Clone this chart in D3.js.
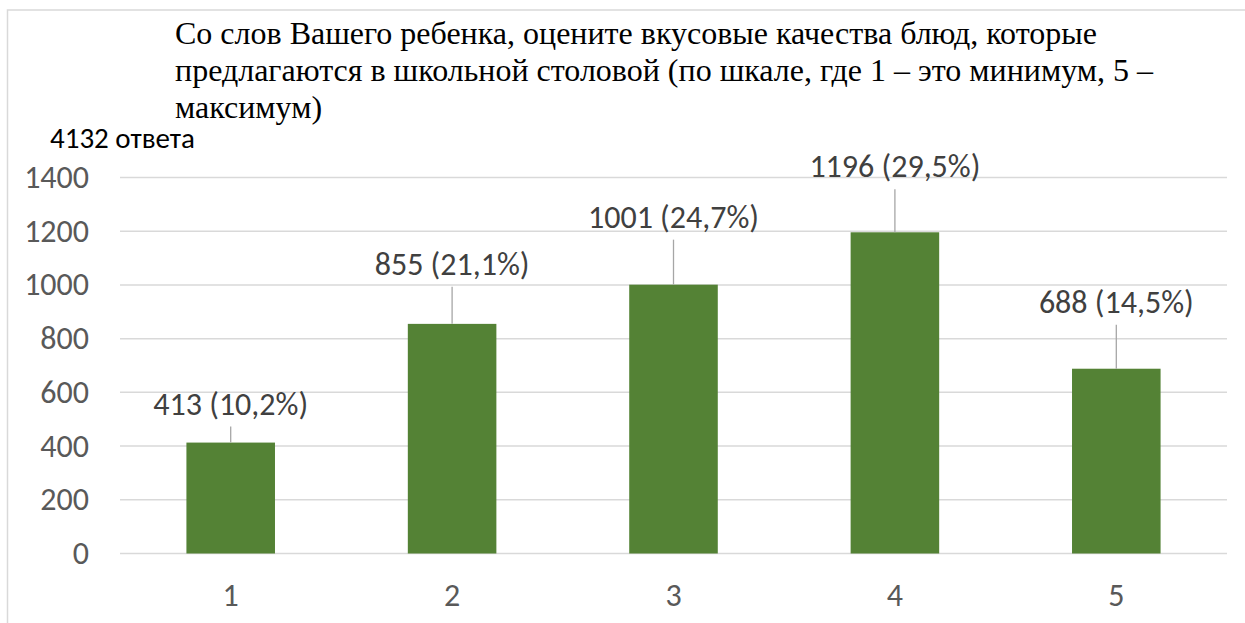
<!DOCTYPE html>
<html>
<head>
<meta charset="utf-8">
<script src="https://cdn.jsdelivr.net/npm/d3@7"></script>
<style>
  html, body { margin: 0; padding: 0; background: #fff; }
  svg { display: block; }
</style>
</head>
<body>
<svg id="chart"></svg>
<script>
const width = 1245,
      height = 623;

// data
const grades = ['1', '2', '3', '4', '5'];
const counts = [413, 855, 1001, 1196, 688];
const percents = [10.2, 21.1, 24.7, 29.5, 14.5];
const yTicks = [0, 200, 400, 600, 800, 1000, 1200, 1400];
const titleLines = [
  'Со слов Вашего ребенка, оцените вкусовые качества блюд, которые',
  'предлагаются в школьной столовой (по шкале, где 1 – это минимум, 5 –',
  'максимум)'
];
const subtitle = '4132 ответа';

// label lifts above each bar top (manually placed in the original)
const labelLift = [28, 49, 57, 55, 56];

const sansFont = 'Calibri, Carlito, "Open Sans", sans-serif';

const svg = d3.select('#chart')
    .attr('width', width)
    .attr('height', height);

// outer chart border (continues off the right/bottom edges)
svg.append('rect')
    .attr('x', 7.5)
    .attr('y', 10)
    .attr('width', width + 20)
    .attr('height', height + 20)
    .attr('fill', '#fff')
    .attr('stroke', '#d9d9d9')
    .attr('stroke-width', 1.5);

const x = d3.scaleBand()
    .domain(grades)
    .range([120, 1227])
    .paddingInner(0.6)
    .paddingOuter(0.3);

const y = d3.scaleLinear()
    .domain([0, 1400])
    .range([553.5, 177.5]);

// gridlines
svg.append('g')
    .selectAll('line')
    .data(yTicks)
    .join('line')
      .attr('x1', 120)
      .attr('x2', 1227)
      .attr('y1', (d) => y(d))
      .attr('y2', (d) => y(d))
      .attr('stroke', '#d9d9d9')
      .attr('stroke-width', 1.5);

// y tick labels
svg.append('g')
    .selectAll('text')
    .data(yTicks)
    .join('text')
      .attr('x', 89)
      .attr('y', (d) => y(d))
      .attr('dy', '0.33em')
      .attr('text-anchor', 'end')
      .attr('font-family', sansFont)
      .attr('font-size', 32)
      .attr('fill', '#595959')
      .text((d) => d);

// x tick labels
svg.append('g')
    .selectAll('text')
    .data(grades)
    .join('text')
      .attr('x', (d) => x(d) + x.bandwidth() / 2)
      .attr('y', 606)
      .attr('text-anchor', 'middle')
      .attr('font-family', sansFont)
      .attr('font-size', 32)
      .attr('fill', '#595959')
      .text((d) => d);

const rows = grades.map((g, i) => ({ grade: g, count: counts[i], pct: percents[i], lift: labelLift[i] }));

// bars
svg.append('g')
    .selectAll('rect')
    .data(rows)
    .join('rect')
      .attr('x', (d) => x(d.grade))
      .attr('y', (d) => y(d.count))
      .attr('width', x.bandwidth())
      .attr('height', (d) => y(0) - y(d.count))
      .attr('fill', '#548235');

// leader lines
svg.append('g')
    .selectAll('line')
    .data(rows)
    .join('line')
      .attr('x1', (d) => x(d.grade) + x.bandwidth() / 2)
      .attr('x2', (d) => x(d.grade) + x.bandwidth() / 2)
      .attr('y1', (d) => y(d.count) - d.lift + 12)
      .attr('y2', (d) => y(d.count))
      .attr('stroke', '#a6a6a6')
      .attr('stroke-width', 1.3);

// data labels
svg.append('g')
    .selectAll('text')
    .data(rows)
    .join('text')
      .attr('x', (d) => x(d.grade) + x.bandwidth() / 2)
      .attr('y', (d) => y(d.count) - d.lift)
      .attr('text-anchor', 'middle')
      .attr('font-family', sansFont)
      .attr('font-size', 32)
      .attr('fill', '#404040')
      .text((d) => `${d.count} (${d3.format('.1f')(d.pct).replace('.', ',')}%)`);

// title
svg.append('g')
    .selectAll('text')
    .data(titleLines)
    .join('text')
      .attr('x', 175)
      .attr('y', (d, i) => 44 + i * 37)
      .attr('font-family', '"Times New Roman", "Liberation Serif", serif')
      .attr('font-size', 32)
      .attr('fill', '#000')
      .text((d) => d);

svg.append('text')
    .attr('x', 50)
    .attr('y', 148)
    .attr('font-family', sansFont)
    .attr('font-size', 29)
    .attr('fill', '#000')
    .text(subtitle);
</script>
</body>
</html>
